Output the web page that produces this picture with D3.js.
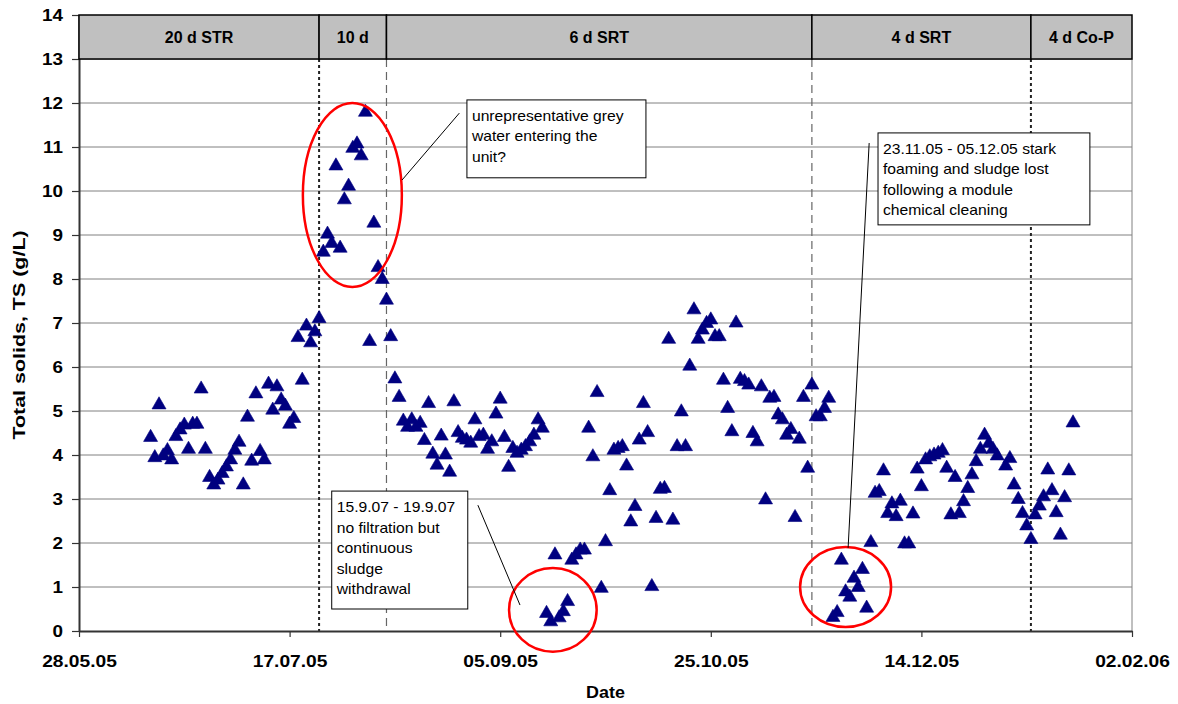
<!DOCTYPE html>
<html>
<head>
<meta charset="utf-8">
<script src="https://cdn.jsdelivr.net/npm/d3@7"></script>
<style>
  body { margin: 0; background: #fff; }
  svg { display: block; font-family: "Liberation Sans", Arial, sans-serif; }
</style>
</head>
<body>
<div id="chart"></div>
<script>
// ---- Data ----
const xTicks = ['28.05.05', '17.07.05', '05.09.05', '25.10.05', '14.12.05', '02.02.06'];
const yTicks = [0, 1, 2, 3, 4, 5, 6, 7, 8, 9, 10, 11, 12, 13, 14];

const phaseLabels = ['20 d STR', '10 d', '6 d SRT', '4 d SRT', '4 d Co-P'];
const phaseEnds = ['24.07.05', '09.08.05', '18.11.05', '09.01.06', '02.02.06'];

const sampleDates = [
  // 20 d STR
  '14.06.05','15.06.05','16.06.05','17.06.05','18.06.05','19.06.05','20.06.05','21.06.05','22.06.05','23.06.05',
  '24.06.05','25.06.05','26.06.05','27.06.05','28.06.05','29.06.05','30.06.05','01.07.05','02.07.05','03.07.05',
  '04.07.05','05.07.05','06.07.05','07.07.05','08.07.05','09.07.05','10.07.05','11.07.05','12.07.05','13.07.05',
  '14.07.05','15.07.05','16.07.05','17.07.05','18.07.05','19.07.05','20.07.05','21.07.05','22.07.05','23.07.05',
  '24.07.05',
  // 10 d
  '25.07.05','26.07.05','27.07.05','28.07.05','29.07.05','30.07.05','31.07.05','01.08.05','02.08.05','03.08.05',
  '04.08.05','05.08.05','06.08.05','07.08.05','08.08.05','09.08.05','10.08.05',
  // 6 d SRT
  '11.08.05','12.08.05','13.08.05','14.08.05','15.08.05','16.08.05','17.08.05','18.08.05','19.08.05','20.08.05',
  '21.08.05','22.08.05','23.08.05','24.08.05','25.08.05','26.08.05','27.08.05','28.08.05','29.08.05','30.08.05',
  '31.08.05','01.09.05','02.09.05','03.09.05','04.09.05','05.09.05','06.09.05','07.09.05','08.09.05','09.09.05',
  '10.09.05','11.09.05','12.09.05','13.09.05','14.09.05','15.09.05','16.09.05','17.09.05','18.09.05','19.09.05',
  '20.09.05','21.09.05','22.09.05','23.09.05','24.09.05','25.09.05','26.09.05','27.09.05','28.09.05','29.09.05',
  '30.09.05','01.10.05','02.10.05','03.10.05','04.10.05','05.10.05','06.10.05','07.10.05','08.10.05','09.10.05',
  '10.10.05','11.10.05','12.10.05','13.10.05','14.10.05','15.10.05','16.10.05','17.10.05','18.10.05','19.10.05',
  '20.10.05','21.10.05','22.10.05','23.10.05','24.10.05','25.10.05','26.10.05','27.10.05','28.10.05','29.10.05',
  '30.10.05','31.10.05','01.11.05','02.11.05','03.11.05','04.11.05','05.11.05','06.11.05','07.11.05','08.11.05',
  '09.11.05','10.11.05','11.11.05','12.11.05','13.11.05','14.11.05','15.11.05','16.11.05','17.11.05','18.11.05',
  // 4 d SRT
  '19.11.05','20.11.05','21.11.05','22.11.05','23.11.05','24.11.05','25.11.05','26.11.05','27.11.05','28.11.05',
  '29.11.05','30.11.05','01.12.05','02.12.05','03.12.05','04.12.05','05.12.05','06.12.05','07.12.05','08.12.05',
  '09.12.05','10.12.05','11.12.05','12.12.05','13.12.05','14.12.05','15.12.05','16.12.05','17.12.05','18.12.05',
  '19.12.05','20.12.05','21.12.05','22.12.05','23.12.05','24.12.05','25.12.05','26.12.05','27.12.05','28.12.05',
  '29.12.05','30.12.05','31.12.05','01.01.06','03.01.06','04.01.06','05.01.06','06.01.06','07.01.06','08.01.06',
  '09.01.06',
  // 4 d Co-P
  '10.01.06','11.01.06','12.01.06','13.01.06','14.01.06','15.01.06','16.01.06','17.01.06','18.01.06','19.01.06'
];

const tsValues = [
  // 20 d STR
  4.40, 3.94, 5.14, 3.98, 4.10, 3.89, 4.42, 4.57, 4.68, 4.13,
  4.70, 4.70, 5.50, 4.13, 3.49, 3.32, 3.43, 3.58, 3.73, 3.89,
  4.11, 4.29, 3.32, 4.86, 3.86, 5.39, 4.08, 3.89, 5.61, 5.02,
  5.55, 5.25, 5.11, 4.70, 4.83, 6.67, 5.70, 6.93, 6.55, 6.80,
  7.10,
  // 10 d
  8.61, 9.02, 8.81, 10.57, 8.70, 9.80, 10.11, 10.97, 11.07, 10.80,
  11.79, 6.58, 9.27, 8.26, 7.99, 7.52, 6.69,
  // 6 d SRT
  5.73, 5.31, 4.77, 4.63, 4.80, 4.63, 4.72, 4.33, 5.17, 4.02,
  3.77, 4.43, 4.00, 3.61, 5.21, 4.51, 4.38, 4.34, 4.27, 4.80,
  4.42, 4.45, 4.13, 4.30, 4.93, 5.27, 4.40, 3.72, 4.15, 4.04,
  4.11, 4.19, 4.30, 4.45, 4.80, 4.61, 0.40, 0.21, 1.73, 0.30,
  0.44, 0.67, 1.61, 1.73, 1.84, 1.84, 4.61, 3.96, 5.42, 0.97,
  2.03, 3.19, 4.11, 4.15, 4.19, 3.75, 2.48, 2.83, 4.34, 5.17,
  4.51, 1.01, 2.56, 3.22, 3.24, 6.63, 2.52, 4.19, 4.98, 4.19,
  6.02, 7.30, 6.63, 6.84, 6.99, 7.07, 6.69, 6.69, 5.70, 5.06,
  4.53, 7.00, 5.72, 5.67, 5.59, 4.49, 4.30, 5.55, 2.98, 5.29,
  5.31, 4.91, 4.80, 4.45, 4.58, 2.58, 4.36, 5.31, 3.70, 5.59,
  // 4 d SRT
  4.87, 4.87, 5.06, 5.29, 0.31, 0.42, 1.61, 0.89, 0.77, 1.20,
  0.99, 1.40, 0.52, 2.01, 3.13, 3.17, 3.64, 2.67, 2.89, 2.60,
  2.95, 1.98, 1.98, 2.66, 3.68, 3.28, 3.89, 3.96, 4.00, 4.04,
  4.10, 3.70, 2.64, 3.49, 2.67, 2.94, 3.24, 3.55, 3.85, 4.13,
  4.45, 4.26, 4.13, 3.98, 3.75, 3.92, 3.32, 2.99, 2.67, 2.39,
  2.08,
  // 4 d Co-P
  2.64, 2.84, 3.05, 3.66, 3.19, 2.69, 2.18, 3.03, 3.64, 4.73
];

const noteGrey = ['unrepresentative grey', 'water entering the', 'unit?'];
const noteFiltration = ['15.9.07 - 19.9.07', 'no filtration but', 'continuous', 'sludge', 'withdrawal'];
const noteFoaming = ['23.11.05 - 05.12.05 stark', 'foaming and sludge lost', 'following a module', 'chemical cleaning'];

// ---- Setup ----
const parse = d3.utcParse('%d.%m.%y');
const fmt = d3.utcFormat('%d.%m.%y');
const points = sampleDates.map((d, i) => ({ date: parse(d), ts: tsValues[i] }));

const W = 1178, H = 704;
const margin = { top: 15, right: 46, bottom: 73, left: 79 };
const innerW = W - margin.left - margin.right;
const innerH = H - margin.top - margin.bottom;

const svg = d3.select('#chart').append('svg')
  .attr('width', W)
  .attr('height', H);

const g = svg.append('g')
  .attr('transform', `translate(${margin.left},${margin.top})`);

// ---- Scales ----
const x = d3.scaleUtc()
  .domain([parse(xTicks[0]), parse(xTicks[xTicks.length - 1])])
  .range([0, innerW]);
const y = d3.scaleLinear().domain([0, 14]).range([innerH, 0]);

// date from fractional day count, used for placing the notes
const atDay = n => new Date(+x.domain()[0] + n * 864e5);
const xd = n => x(atDay(n));

// ---- Grid ----
g.append('g').selectAll('line')
  .data(yTicks.filter(v => v > 0 && v < 14))
  .enter().append('line')
  .attr('x1', 0).attr('x2', innerW)
  .attr('y1', d => y(d)).attr('y2', d => y(d))
  .attr('stroke', '#808080')
  .attr('stroke-width', 1);

// right border of plot area
g.append('line')
  .attr('x1', innerW).attr('x2', innerW)
  .attr('y1', y(13)).attr('y2', y(0))
  .attr('stroke', '#808080');

// ---- Phase separators ----
const phaseDates = phaseEnds.map(parse);
g.append('g').selectAll('line')
  .data(phaseDates.slice(0, -1))
  .enter().append('line')
  .attr('x1', d => x(d)).attr('x2', d => x(d))
  .attr('y1', y(13)).attr('y2', y(0))
  .attr('stroke', (d, i) => (i === 0 || i === 3) ? '#222' : '#666')
  .attr('stroke-width', (d, i) => (i === 0 || i === 3) ? 2 : 1.2)
  .attr('stroke-dasharray', (d, i) => (i === 0 || i === 3) ? '3,3' : '8,5');

// ---- Axes ----
const xAxis = g.append('g')
  .attr('transform', `translate(0,${innerH})`)
  .call(d3.axisBottom(x).tickValues(xTicks.map(parse)).tickFormat(fmt).tickSize(6).tickSizeOuter(0));
xAxis.select('.domain').attr('stroke', '#333').attr('stroke-width', 2);
xAxis.selectAll('.tick line').attr('stroke', '#333').attr('stroke-width', 1.2);
xAxis.selectAll('text')
  .attr('y', 36).attr('dy', null)
  .attr('transform', 'scale(1.2,1)')
  .style('font-size', '16px').style('font-weight', 'bold')
  .style('font-family', '"Liberation Sans", Arial, sans-serif')
  .attr('fill', '#000');

const yAxis = g.append('g')
  .call(d3.axisLeft(y).tickValues(yTicks).tickSize(7).tickSizeOuter(0));
yAxis.select('.domain').attr('stroke', '#333').attr('stroke-width', 2);
yAxis.selectAll('.tick line').attr('stroke', '#333').attr('stroke-width', 1.2);
yAxis.selectAll('text')
  .attr('x', 0).attr('dy', '0.36em')
  .attr('transform', 'translate(-16,0) scale(1.18,1)')
  .style('font-size', '16px').style('font-weight', 'bold')
  .style('font-family', '"Liberation Sans", Arial, sans-serif')
  .attr('fill', '#000');

// ---- Axis titles ----
svg.append('text')
  .attr('transform', `translate(${margin.left + innerW / 2},698) scale(1.12,1)`)
  .attr('text-anchor', 'middle')
  .style('font-size', '16px').style('font-weight', 'bold')
  .text('Date');

// rotated title, stretched along its own direction like the other labels
svg.append('text')
  .attr('transform', `translate(25,${margin.top + innerH / 2 + 12}) rotate(-90) scale(1.3,1)`)
  .attr('text-anchor', 'middle')
  .style('font-size', '16.5px').style('font-weight', 'bold')
  .text('Total solids, TS (g/L)');

// ---- Phase band ----
const bandStarts = [x.domain()[0]].concat(phaseDates.slice(0, -1));
const band = g.append('g');
band.selectAll('rect')
  .data(phaseLabels)
  .enter().append('rect')
  .attr('x', (d, i) => x(bandStarts[i]))
  .attr('width', (d, i) => x(phaseDates[i]) - x(bandStarts[i]))
  .attr('y', y(14))
  .attr('height', y(13) - y(14))
  .attr('fill', '#c0c0c0')
  .attr('stroke', '#000')
  .attr('stroke-width', 1.5);
band.selectAll('text')
  .data(phaseLabels)
  .enter().append('text')
  .attr('x', (d, i) => (x(bandStarts[i]) + x(phaseDates[i])) / 2)
  .attr('y', y(13.5) + 6)
  .attr('text-anchor', 'middle')
  .style('font-size', '16px').style('font-weight', 'bold')
  .text(d => d);

// ---- Points ----
const tri = d3.symbol().type(d3.symbolTriangle).size(85);
g.append('g').selectAll('path')
  .data(points)
  .enter().append('path')
  .attr('d', tri)
  .attr('transform', d => `translate(${x(d.date)},${y(d.ts)})`)
  .attr('fill', '#000080')
  .attr('stroke', '#000080')
  .attr('stroke-width', 0.6);

// ---- Red ellipses ----
const ellipses = [
  { c: 64.9, v: 9.91, rd: 11.75, rv: 2.09 },
  { c: 112.5, v: 0.48, rd: 10.4, rv: 0.95 },
  { c: 182, v: 1.0, rd: 10.8, rv: 0.91 }
];
g.append('g').selectAll('ellipse')
  .data(ellipses)
  .enter().append('ellipse')
  .attr('cx', d => xd(d.c))
  .attr('cy', d => y(d.v))
  .attr('rx', d => xd(d.c + d.rd) - xd(d.c))
  .attr('ry', d => y(0) - y(d.rv))
  .attr('fill', 'none')
  .attr('stroke', '#ff0000')
  .attr('stroke-width', 2.5);

// ---- Callouts ----
function callout(lines, box, leader) {
  const cg = g.append('g');
  cg.append('line')
    .attr('x1', xd(leader[0])).attr('y1', y(leader[1]))
    .attr('x2', xd(leader[2])).attr('y2', y(leader[3]))
    .attr('stroke', '#000').attr('stroke-width', 1);
  const bx = xd(box[0]), by = y(box[1]);
  cg.append('rect')
    .attr('x', bx).attr('y', by)
    .attr('width', xd(box[2]) - bx)
    .attr('height', y(box[3]) - by)
    .attr('fill', '#fff')
    .attr('stroke', '#000')
    .attr('stroke-width', 1);
  const t = cg.append('text')
    .attr('transform', `translate(${bx + 5},${by + 21}) scale(1.12,1)`)
    .style('font-size', '14px');
  lines.forEach((l, i) => {
    t.append('tspan').attr('x', 0).attr('y', i * 20.5).text(l);
  });
}

callout(noteGrey, [92.1, 12.07, 134.6, 10.30], [90.3, 11.77, 76.7, 10.25]);
callout(noteFiltration, [60.0, 3.18, 92.3, 0.50], [94.7, 2.86, 104.7, 0.59]);
callout(noteFoaming, [189.7, 11.32, 240.0, 9.23], [187.6, 11.09, 182.6, 1.89]);
</script>
</body>
</html>
